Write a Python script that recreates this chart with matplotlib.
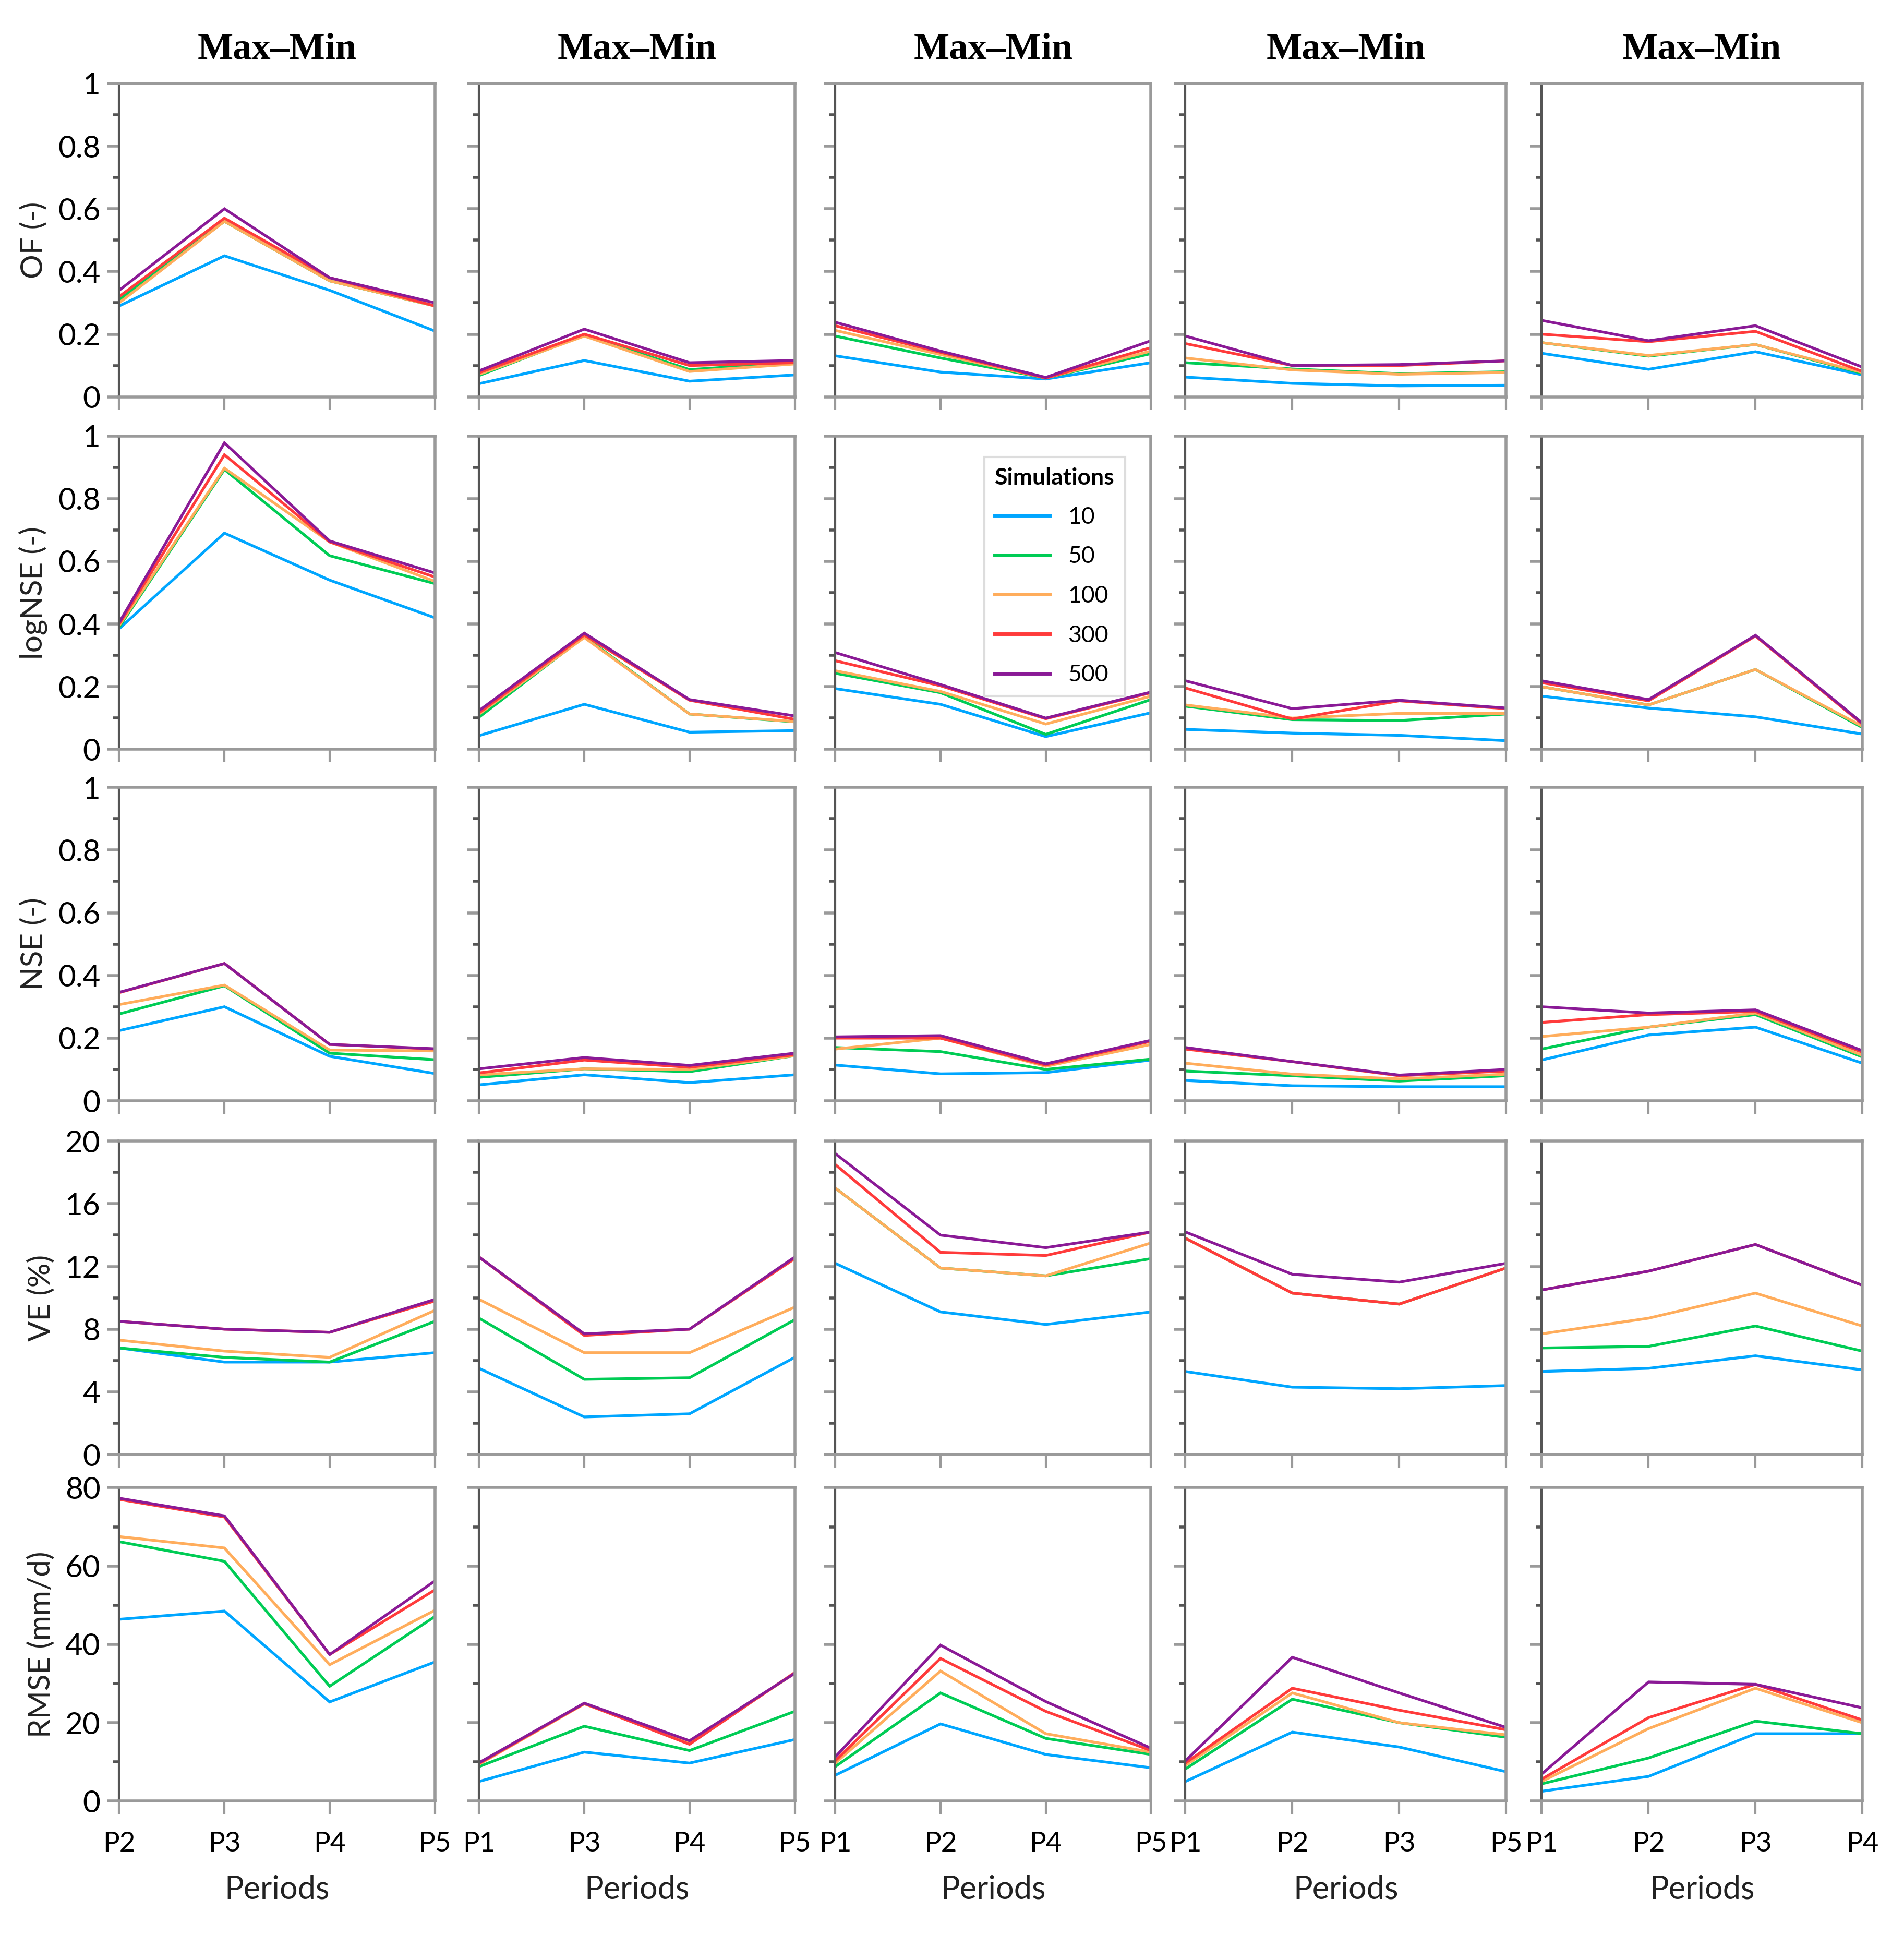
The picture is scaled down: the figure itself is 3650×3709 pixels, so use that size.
import numpy as np
import matplotlib.pyplot as plt
from matplotlib.ticker import MultipleLocator

# simulation counts and colours
sims = ['10', '50', '100', '300', '500']
colors = ['#00a6ff', '#00cc55', '#ffad5c', '#ff3b3b', '#8a1a96']

# period labels for each column (one period left out per column)
periods = [['P2', 'P3', 'P4', 'P5'],
           ['P1', 'P3', 'P4', 'P5'],
           ['P1', 'P2', 'P4', 'P5'],
           ['P1', 'P2', 'P3', 'P5'],
           ['P1', 'P2', 'P3', 'P4']]

# each metric: 5 columns, each with 5 series (10, 50, 100, 300, 500)
of_vals = [
    [[0.29, 0.45, 0.34, 0.21], [0.31, 0.56, 0.37, 0.29], [0.30, 0.56, 0.37, 0.29],
     [0.32, 0.57, 0.38, 0.29], [0.34, 0.60, 0.38, 0.30]],
    [[0.042, 0.116, 0.05, 0.07], [0.068, 0.197, 0.087, 0.109], [0.072, 0.194, 0.081, 0.105],
     [0.077, 0.20, 0.10, 0.109], [0.083, 0.216, 0.109, 0.116]],
    [[0.131, 0.079, 0.057, 0.109], [0.194, 0.124, 0.06, 0.138], [0.212, 0.135, 0.06, 0.146],
     [0.227, 0.142, 0.06, 0.157], [0.238, 0.146, 0.062, 0.179]],
    [[0.063, 0.043, 0.035, 0.037], [0.109, 0.089, 0.074, 0.08], [0.124, 0.086, 0.072, 0.078],
     [0.17, 0.10, 0.10, 0.115], [0.194, 0.10, 0.103, 0.115]],
    [[0.139, 0.088, 0.144, 0.07], [0.173, 0.13, 0.167, 0.075], [0.173, 0.132, 0.167, 0.078],
     [0.20, 0.176, 0.209, 0.081], [0.244, 0.179, 0.227, 0.095]],
]

lognse_vals = [
    [[0.385, 0.69, 0.54, 0.42], [0.39, 0.893, 0.618, 0.529], [0.395, 0.897, 0.662, 0.536],
     [0.40, 0.94, 0.662, 0.55], [0.405, 0.978, 0.665, 0.563]],
    [[0.044, 0.144, 0.055, 0.06], [0.103, 0.36, 0.113, 0.088], [0.113, 0.357, 0.113, 0.089],
     [0.117, 0.365, 0.157, 0.096], [0.124, 0.371, 0.159, 0.107]],
    [[0.194, 0.144, 0.041, 0.117], [0.243, 0.181, 0.048, 0.159], [0.251, 0.185, 0.081, 0.17],
     [0.283, 0.203, 0.098, 0.181], [0.309, 0.207, 0.10, 0.183]],
    [[0.064, 0.052, 0.045, 0.028], [0.138, 0.095, 0.092, 0.113], [0.142, 0.10, 0.115, 0.115],
     [0.196, 0.097, 0.155, 0.13], [0.219, 0.13, 0.157, 0.132]],
    [[0.17, 0.132, 0.104, 0.049], [0.20, 0.142, 0.255, 0.07], [0.20, 0.142, 0.255, 0.074],
     [0.213, 0.155, 0.362, 0.081], [0.219, 0.159, 0.364, 0.084]],
]

nse_vals = [
    [[0.224, 0.30, 0.142, 0.087], [0.277, 0.367, 0.152, 0.131], [0.307, 0.369, 0.162, 0.159],
     [0.345, 0.438, 0.18, 0.165], [0.346, 0.438, 0.18, 0.166]],
    [[0.051, 0.083, 0.058, 0.083], [0.075, 0.102, 0.093, 0.144], [0.083, 0.102, 0.10, 0.144],
     [0.089, 0.13, 0.107, 0.147], [0.102, 0.138, 0.113, 0.152]],
    [[0.114, 0.086, 0.09, 0.13], [0.17, 0.157, 0.10, 0.133], [0.165, 0.20, 0.11, 0.18],
     [0.20, 0.20, 0.114, 0.19], [0.204, 0.208, 0.118, 0.193]],
    [[0.065, 0.048, 0.045, 0.045], [0.095, 0.08, 0.063, 0.08], [0.12, 0.085, 0.07, 0.085],
     [0.165, 0.125, 0.08, 0.095], [0.17, 0.125, 0.082, 0.10]],
    [[0.13, 0.21, 0.235, 0.12], [0.165, 0.235, 0.275, 0.14], [0.205, 0.235, 0.28, 0.145],
     [0.25, 0.275, 0.285, 0.155], [0.30, 0.28, 0.29, 0.16]],
]

ve_vals = [
    [[6.8, 5.9, 5.9, 6.5], [6.8, 6.2, 5.9, 8.5], [7.3, 6.6, 6.2, 9.2],
     [8.5, 8.0, 7.8, 9.8], [8.5, 8.0, 7.8, 9.9]],
    [[5.5, 2.4, 2.6, 6.2], [8.7, 4.8, 4.9, 8.6], [9.9, 6.5, 6.5, 9.4],
     [12.6, 7.6, 8.0, 12.5], [12.6, 7.7, 8.0, 12.6]],
    [[12.2, 9.1, 8.3, 9.1], [17.0, 11.9, 11.4, 12.5], [17.0, 11.9, 11.4, 13.5],
     [18.5, 12.9, 12.7, 14.2], [19.2, 14.0, 13.2, 14.2]],
    [[5.3, 4.3, 4.2, 4.4], [13.8, 10.3, 9.6, 11.9], [13.8, 10.3, 9.6, 11.9],
     [13.8, 10.3, 9.6, 11.9], [14.2, 11.5, 11.0, 12.2]],
    [[5.3, 5.5, 6.3, 5.4], [6.8, 6.9, 8.2, 6.6], [7.7, 8.7, 10.3, 8.2],
     [10.5, 11.7, 13.4, 10.8], [10.5, 11.7, 13.4, 10.8]],
]

rmse_vals = [
    [[46.4, 48.5, 25.3, 35.5], [66.2, 61.2, 29.3, 47.1], [67.5, 64.6, 34.8, 48.7],
     [77.0, 72.5, 37.4, 53.9], [77.3, 72.8, 37.4, 56.2]],
    [[5.0, 12.5, 9.7, 15.7], [8.8, 19.1, 12.9, 22.9], [9.4, 24.8, 15.0, 32.6],
     [9.6, 24.9, 14.5, 32.8], [9.8, 25.0, 15.4, 32.6]],
    [[6.6, 19.7, 11.9, 8.5], [8.8, 27.6, 16.0, 11.9], [9.7, 33.2, 17.2, 12.5],
     [10.3, 36.4, 22.9, 12.9], [11.3, 39.8, 25.4, 13.5]],
    [[5.0, 17.6, 13.8, 7.5], [8.2, 26.0, 20.0, 16.3], [9.1, 27.6, 20.0, 16.9],
     [9.7, 28.8, 23.2, 18.2], [10.3, 36.7, 27.6, 18.8]],
    [[2.5, 6.3, 17.2, 17.2], [4.4, 11.0, 20.4, 17.2], [5.0, 18.5, 28.8, 20.0],
     [5.6, 21.3, 29.8, 20.7], [6.9, 30.4, 29.8, 23.8]],
]

metrics = [of_vals, lognse_vals, nse_vals, ve_vals, rmse_vals]
ylabels = ['OF (-)', 'logNSE (-)', 'NSE (-)', 'VE (%)', 'RMSE (mm/d)']
ymax = [1, 1, 1, 20, 80]
ymajor = [0.2, 0.2, 0.2, 4, 20]

plt.rcParams['font.family'] = ['Lato', 'DejaVu Sans']

fig = plt.figure(figsize=(36.5, 37.09), dpi=100)
lefts = [0.0626, 0.2516, 0.4387, 0.6226, 0.8097]
widths = [0.1658, 0.1658, 0.1658, 0.1684, 0.1684]
bottoms = [0.7949, 0.6127, 0.4311, 0.2483, 0.0692]
height = 0.162

dark = '#555555'
light = '#9a9a9a'

for r in range(5):
    for c in range(5):
        ax = fig.add_axes([lefts[c], bottoms[r], widths[c], height])
        x = np.arange(4)
        for s in range(5):
            ax.plot(x, metrics[r][c][s], color=colors[s], lw=3.8,
                    label=sims[s], solid_joinstyle='miter')
        ax.set_xlim(0, 3)
        ax.set_ylim(0, ymax[r])
        ax.yaxis.set_major_locator(MultipleLocator(ymajor[r]))
        ax.yaxis.set_minor_locator(MultipleLocator(ymajor[r] / 2))
        ax.set_xticks(x)

        for side in ['top', 'right', 'bottom']:
            ax.spines[side].set_color(light)
            ax.spines[side].set_linewidth(4)
        ax.spines['left'].set_color(dark)
        ax.spines['left'].set_linewidth(3)

        ax.tick_params(axis='y', which='major', direction='out', length=16,
                       width=4, color=light, labelsize=42, pad=10)
        ax.tick_params(axis='y', which='minor', direction='out', length=8,
                       width=4, color=dark)
        ax.tick_params(axis='x', which='major', direction='out', length=18,
                       width=3, color=light, labelsize=38, pad=24)

        if c == 0:
            if ymax[r] == 1:
                ticks = np.arange(0, 1.01, 0.2)
                ax.set_yticks(ticks)
                ax.set_yticklabels(['0', '0.2', '0.4', '0.6', '0.8', '1'])
            ax.set_ylabel(ylabels[r], fontsize=42, labelpad=14, color='#222222')
        else:
            ax.set_yticklabels([])

        if r == 4:
            ax.set_xticklabels(periods[c])
            ax.set_xlabel('Periods', fontsize=44, labelpad=26, color='#222222')
        else:
            ax.set_xticklabels([])

        if r == 0:
            ax.set_title('Max\u2013Min', fontsize=52, fontweight='bold',
                         family='Liberation Serif', pad=34)

        if r == 1 and c == 2:
            leg = ax.legend(title='Simulations', loc='upper right',
                            fontsize=32, title_fontsize=32, handlelength=2.35,
                            labelspacing=0.78, handletextpad=0.8,
                            borderpad=0.45, bbox_to_anchor=(0.955, 0.97),
                            fancybox=False, edgecolor='#dddddd',
                            framealpha=1, alignment='left')
            leg.get_title().set_fontweight('bold')
            leg.get_frame().set_linewidth(3)
            for line in leg.get_lines():
                line.set_linewidth(5)

fig.savefig('out.png', dpi=100, facecolor='white')
